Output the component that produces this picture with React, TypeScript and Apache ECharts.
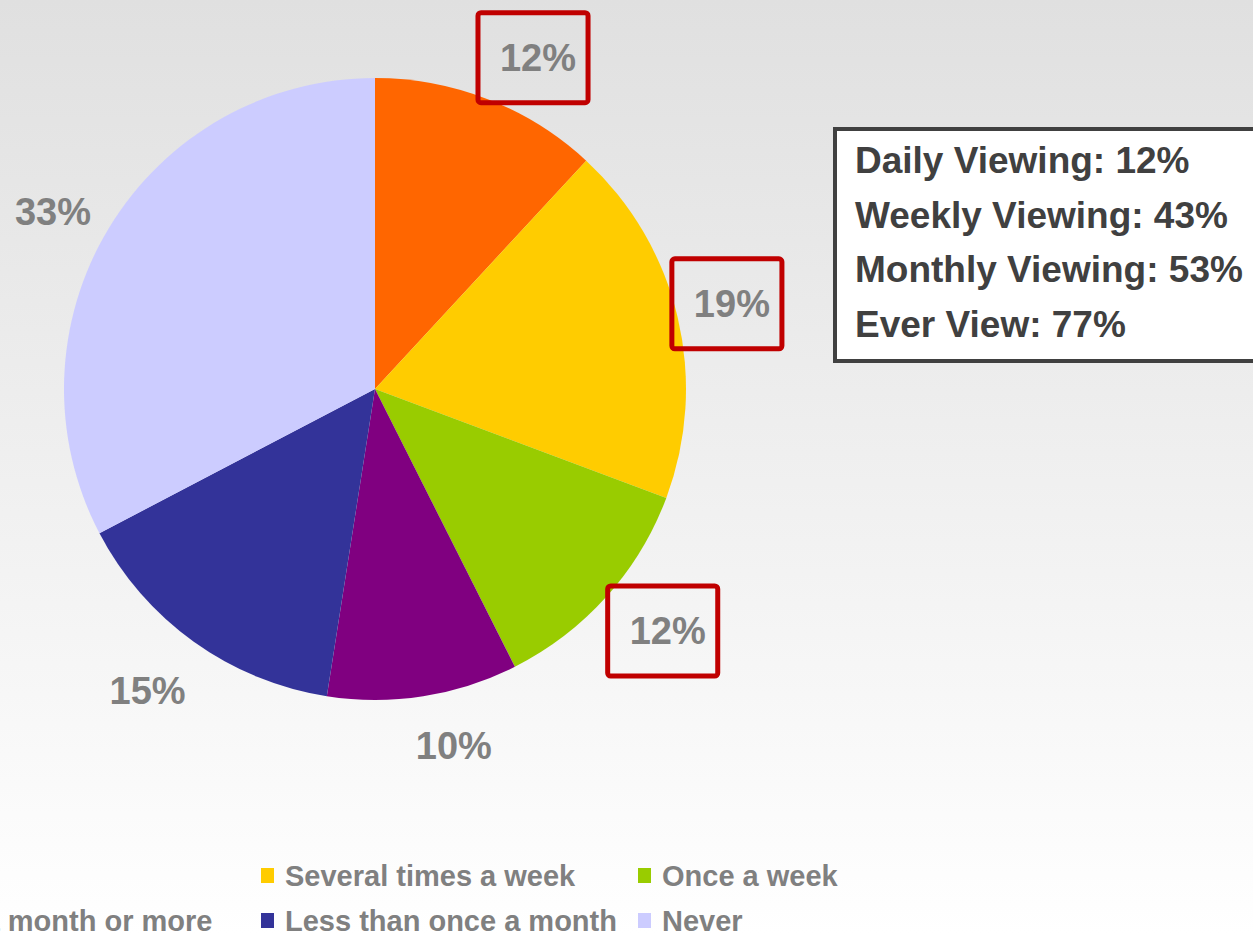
import React, { useEffect, useRef } from "react";
import * as echarts from "echarts";

const categories = [
  "Daily",
  "Several times a week",
  "Once a week",
  "Once a month or more",
  "Less than once a month",
  "Never",
];
const shares = [12, 19, 12, 10, 15, 33];
const sliceColors = ["#FF6600", "#FFCC00", "#99CC00", "#800080", "#333399", "#CCCCFF"];
const boxedLabels = [true, true, true, false, false, false];
const summaryLines = [
  "Daily Viewing: 12%",
  "Weekly Viewing: 43%",
  "Monthly Viewing: 53%",
  "Ever View: 77%",
];

const FONT = "'Liberation Sans', Arial, Helvetica, sans-serif";
const labelNudge = [
  [22, 16],
  [-11, 1],
  [10, -7],
  [21, -11],
  [-10, -1],
  [-3, 16],
];
// legend grid: 3 columns x 2 rows, filled row by row in this order
const legendOrder = [0, 1, 2, 3, 4, 5];
const legendColumnsLeft = [-121, 261, 638];
const legendRowsTop = [861, 906];

export default function App() {
  const ref = useRef<HTMLDivElement>(null);
  useEffect(() => {
    document.body.style.margin = "0";
    const chart = echarts.init(ref.current!, null, { renderer: "svg" });
    const pieData = categories.map((name, i) => ({
      name,
      value: shares[i],
      itemStyle: { color: sliceColors[i] },
    }));
    const labelData = categories.map((name, i) => ({
      name,
      value: shares[i],
      itemStyle: { color: "transparent" },
      label: boxedLabels[i]
        ? {
            borderColor: "#C00000",
            borderWidth: 5,
            borderRadius: 3,
            padding: [27, 12, 25, 22],
          }
        : {},
    }));
    const legends = legendOrder.map((catIndex, k) => ({
      orient: "horizontal" as const,
      left: legendColumnsLeft[k % 3],
      top: legendRowsTop[Math.floor(k / 3)],
      padding: 0,
      icon: "rect",
      itemWidth: 13,
      itemHeight: 15,
      selectedMode: false,
      data: [categories[catIndex]],
      textStyle: {
        color: "#808080",
        fontWeight: "bold" as const,
        fontSize: 29,
        fontFamily: FONT,
        lineHeight: 28,
        padding: [0, 0, 0, 6],
      },
    }));
    chart.setOption({
      animation: false,
      backgroundColor: {
        type: "linear",
        x: 0,
        y: 0,
        x2: 0,
        y2: 1,
        colorStops: [
          { offset: 0, color: "#E0E0E0" },
          { offset: 1, color: "#FFFFFF" },
        ],
      },
      legend: legends,
      series: [
        {
          type: "pie",
          center: [375, 389],
          radius: [0, 311],
          startAngle: 90,
          clockwise: true,
          silent: true,
          label: { show: false },
          labelLine: { show: false },
          itemStyle: { borderWidth: 0 },
          data: pieData,
        },
        {
          type: "pie",
          center: [375, 389],
          radius: [369, 371],
          startAngle: 90,
          clockwise: true,
          silent: true,
          avoidLabelOverlap: false,
          labelLine: { show: false },
          label: {
            show: true,
            position: "inside",
            rotate: 0,
            formatter: (p: any) => `${p.value}%`,
            color: "#808080",
            fontSize: 38,
            fontWeight: "bold",
            fontFamily: FONT,
          },
          labelLayout: (p: any) => ({
            dx: labelNudge[p.dataIndex][0],
            dy: labelNudge[p.dataIndex][1],
          }),
          data: labelData,
        },
      ],
      graphic: [
        {
          type: "rect",
          shape: { x: 835, y: 129, width: 440, height: 232 },
          style: { fill: "#FFFFFF", stroke: "#404040", lineWidth: 4 },
        },
        {
          type: "text",
          x: 855,
          y: 133,
          style: {
            text: summaryLines.join("\n"),
            fill: "#404040",
            font: `bold 37px ${FONT}`,
            lineHeight: 54.7,
            verticalAlign: "top",
            align: "left",
          },
        },
      ],
    });
    return () => chart.dispose();
  }, []);
  return <div ref={ref} style={{ width: 1253, height: 935 }} />;
}
